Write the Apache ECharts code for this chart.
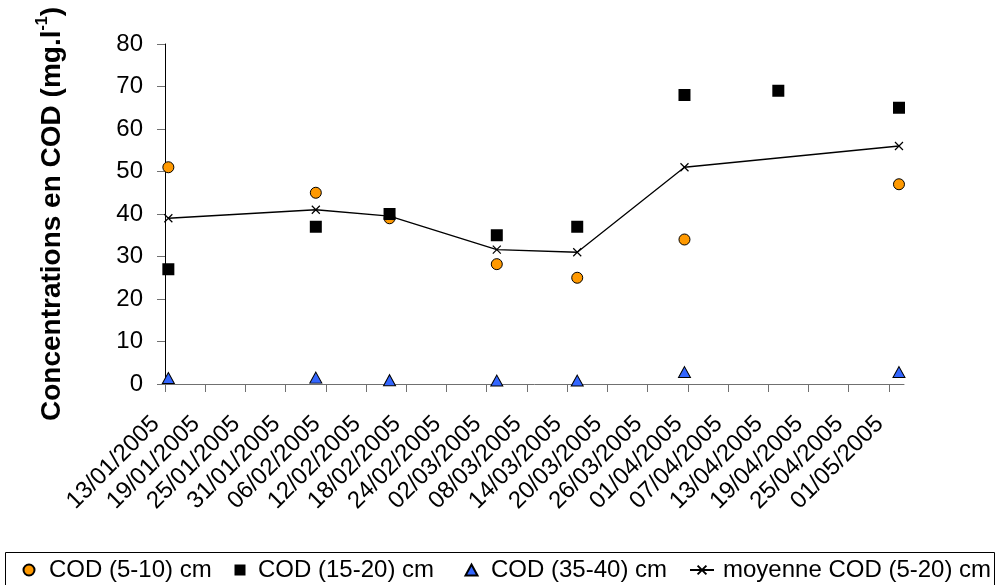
<!DOCTYPE html>
<html>
<head>
<meta charset="utf-8">
<script src="https://cdn.jsdelivr.net/npm/echarts@6/dist/echarts.min.js"></script>
<style>
html,body{margin:0;padding:0;background:#fff;}
#chart{width:1000px;height:585px;}
</style>
</head>
<body>
<div id="chart"></div>
<script>
// ---- data ----
var tickLabels = ['13/01/2005','19/01/2005','25/01/2005','31/01/2005','06/02/2005','12/02/2005','18/02/2005','24/02/2005','02/03/2005','08/03/2005','14/03/2005','20/03/2005','26/03/2005','01/04/2005','07/04/2005','13/04/2005','19/04/2005','25/04/2005','01/05/2005'];
var sampleDates = ['13/01/2005','04/02/2005','15/02/2005','03/03/2005','15/03/2005','31/03/2005','14/04/2005','02/05/2005'];
var cod510  = [51, 45, 39, 28.2, 25, 34, null, 47];
var cod1520 = [27, 37, 40, 35, 37, 68, 69, 65];
var cod3540 = [1.4, 1.5, 0.9, 0.8, 0.8, 2.8, null, 2.8];
var moyenne = [39, 41, 39.5, 31.6, 31, 51, null, 56];
var seriesNames = ['COD (5-10) cm', 'COD (15-20) cm', 'COD (35-40) cm', 'moyenne COD (5-20) cm'];

// ---- helpers ----
function toDays(s) {
  var p = s.split('/');
  var t = Date.UTC(+p[2], +p[1] - 1, +p[0]);
  var b = Date.UTC(2005, 0, 13);
  return (t - b) / 86400000 + 0.5; // samples taken at midday
}
var xs = sampleDates.map(toDays);
function pairs(vals) {
  var out = [];
  vals.forEach(function (v, i) { if (v !== null) out.push([xs[i], v]); });
  return out;
}
var tickValues = tickLabels.map(function (_, i) { return i * 6; });

var FONT = 'Arial, "Liberation Sans", sans-serif';
var chart = echarts.init(document.getElementById('chart'), null, {renderer: 'canvas'});

function legendFor(name, left, itemW, itemH, pad) {
  return {
    data: [name], left: left, top: 556, padding: 0,
    itemWidth: itemW, itemHeight: itemH, selectedMode: false,
    textStyle: {fontFamily: FONT, fontSize: 24, color: '#000', lineHeight: 28, padding: [0, 0, 0, pad]}
  };
}

var option = {
  animation: false,
  backgroundColor: '#fff',
  grid: {left: 165, right: 96, top: 44, bottom: 201, containLabel: false},
  xAxis: {
    type: 'value', min: 0, max: 110.25,
    axisLine: {show: true, onZero: false, lineStyle: {color: '#707070', width: 1}},
    axisTick: {show: true, inside: false, length: 8, customValues: tickValues, lineStyle: {color: '#707070'}},
    splitLine: {show: false},
    axisLabel: {
      customValues: tickValues, rotate: 45, margin: 27, padding: [0, 13, 0, 0],
      fontFamily: FONT, fontSize: 24, color: '#000',
      formatter: function (v) { return tickLabels[Math.round(v / 6)]; }
    }
  },
  yAxis: {
    type: 'value', min: 0, max: 80, interval: 10,
    axisLine: {show: true, lineStyle: {color: '#000', width: 1}},
    axisTick: {show: true, length: 8, lineStyle: {color: '#707070'}},
    splitLine: {show: false},
    axisLabel: {fontFamily: FONT, fontSize: 24, color: '#000', margin: 22},
    name: 'Concentrations en COD (mg.l{sup|-1})',
    nameLocation: 'middle', nameGap: 96, nameRotate: 90,
    nameTextStyle: {
      fontFamily: FONT, fontSize: 28, fontWeight: 'bold', color: '#000', lineHeight: 34,
      rich: {sup: {fontFamily: FONT, fontSize: 16, fontWeight: 'bold', color: '#000', verticalAlign: 'top', lineHeight: 34}}
    }
  },
  legend: [
    legendFor(seriesNames[0], 22.5, 11, 11, 9.5),
    legendFor(seriesNames[1], 234.5, 11, 11, 7.5),
    legendFor(seriesNames[2], 464.5, 12, 11, 8.5),
    legendFor(seriesNames[3], 689, 24, 11, 4)
  ],
  graphic: [{
    type: 'rect', z: 100, silent: true,
    shape: {x: 5.5, y: 552.5, width: 989, height: 60},
    style: {fill: 'none', stroke: '#000', lineWidth: 1}
  }],
  series: [
    {
      name: seriesNames[0], type: 'scatter', data: pairs(cod510),
      symbol: 'circle', symbolSize: 11,
      itemStyle: {color: '#FF9900', borderColor: '#000', borderWidth: 1, opacity: 1}, z: 3
    },
    {
      name: seriesNames[1], type: 'scatter', data: pairs(cod1520),
      symbol: 'rect', symbolSize: 12,
      itemStyle: {color: '#000', borderColor: '#000', borderWidth: 0, opacity: 1}, z: 4
    },
    {
      name: seriesNames[2], type: 'scatter', data: pairs(cod3540),
      symbol: 'triangle', symbolSize: [12, 11],
      itemStyle: {color: '#3366FF', borderColor: '#000', borderWidth: 1, opacity: 1}, z: 3
    },
    {
      name: seriesNames[3], type: 'line', data: pairs(moyenne),
      symbol: 'path://M0,0L10,10M10,0L0,10', symbolSize: 8, showSymbol: true,
      lineStyle: {color: '#000', width: 1.3},
      itemStyle: {color: 'transparent', borderColor: '#000', borderWidth: 1.2},
      z: 5
    }
  ]
};
chart.setOption(option);
</script>
</body>
</html>
